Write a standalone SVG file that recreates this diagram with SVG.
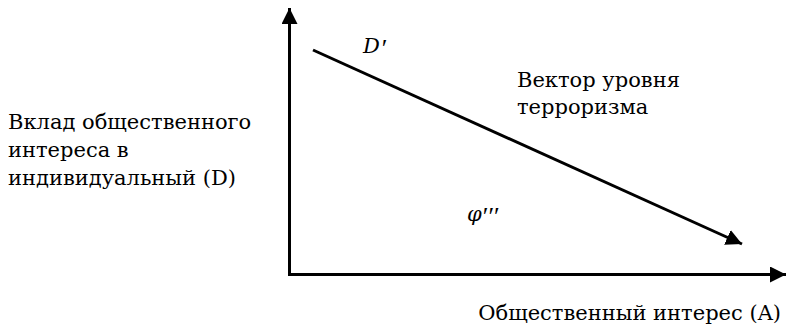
<svg xmlns="http://www.w3.org/2000/svg" width="787" height="329" viewBox="0 0 787 329">
  <style>
    .t { font-family: "DejaVu Serif", "Liberation Serif", serif; font-size: 21px; fill: #000; }
    .i { font-style: italic; }
    .p { font-family: "Liberation Serif", serif; font-size: 26px; font-style: normal; }
    .ln { stroke: #000; stroke-width: 3; fill: none; }
  </style>
  <defs>
    <marker id="ah" markerUnits="userSpaceOnUse" markerWidth="17" markerHeight="16" refX="16" refY="8" orient="auto">
      <path d="M0,0 L16,8 L0,16 Z" fill="#000"/>
    </marker>
  </defs>
  <rect width="787" height="329" fill="#fff"/>
  <g id="connectors">
    <path class="ln" d="M289.5,274.5 L289.5,8" marker-end="url(#ah)"/>
    <path class="ln" d="M288,274.5 L786,274.5" marker-end="url(#ah)"/>
    <path class="ln" d="M313,50 L742,244" marker-end="url(#ah)"/>
  </g>
  <g id="y-label">
    <text class="t" x="8" y="129">Вклад общественного</text>
    <text class="t" x="8" y="157">интереса в</text>
    <text class="t" x="8" y="185">индивидуальный (D)</text>
  </g>
  <g id="x-label">
    <text class="t" x="781" y="320" text-anchor="end">Общественный интерес (A)</text>
  </g>
  <g id="vector-label">
    <text class="t" x="517" y="87">Вектор уровня</text>
    <text class="t" x="517" y="114">терроризма</text>
  </g>
  <g id="d-label">
    <text class="t i" x="363" y="53">D<tspan class="p" dx="2" dy="4">′</tspan></text>
  </g>
  <g id="phi-label">
    <text class="t i" x="467" y="221">φ<tspan class="p" dx="1" dy="4">′′′</tspan></text>
  </g>
</svg>
